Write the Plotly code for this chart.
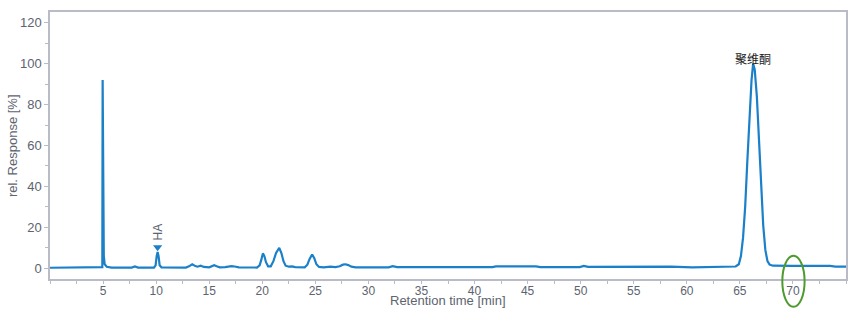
import plotly.graph_objects as go

# Chromatogram trace
time_min = [0.0, 4.85, 4.93, 4.96, 5.00, 5.03, 5.07, 5.15, 5.35, 5.8, 7.7, 8.0, 8.3, 9.8, 9.95,
            10.05, 10.14, 10.23, 10.33, 10.5, 12.8, 13.1, 13.4, 13.7, 13.9, 14.2, 14.5, 15.0,
            15.25, 15.47, 15.7, 16.0, 16.5, 16.8, 17.1, 17.4, 17.8, 19.5, 19.75, 19.9, 20.06,
            20.2, 20.35, 20.55, 20.8, 21.05, 21.3, 21.6, 21.8, 22.0, 22.2, 22.5, 22.8, 23.1,
            24.0, 24.25, 24.45, 24.7, 24.9, 25.1, 25.35, 25.8, 26.4, 26.9, 27.3, 27.6, 27.85,
            28.1, 28.4, 28.8, 31.9, 32.3, 32.7, 41.7, 42.0, 45.8, 46.2, 49.9, 50.3, 50.7, 54.6,
            55.0, 57.5, 58.5, 60.5, 63.0, 64.0, 64.6, 64.9, 65.1, 65.3, 65.5, 65.7, 65.9, 66.1,
            66.25, 66.4, 66.6, 66.8, 67.0, 67.2, 67.4, 67.6, 67.8, 68.1, 70.0, 73.5, 74.0, 75.0]
response = [0.3, 0.3, 0.6, 92.0, 35.0, 33.0, 6.0, 2.0, 0.8, 0.4, 0.4, 0.9, 0.4, 0.4, 1.5,
            6.0, 8.0, 6.0, 1.5, 0.5, 0.4, 1.0, 2.0, 1.1, 0.8, 1.3, 0.7, 0.5,
            1.0, 1.5, 1.0, 0.5, 0.6, 0.9, 1.1, 0.9, 0.5, 0.4, 1.5, 4.0, 7.3,
            6.0, 3.0, 1.0, 1.0, 3.5, 7.5, 10.0, 7.5, 3.5, 1.3, 0.8, 1.0, 0.6,
            0.5, 1.8, 4.5, 6.8, 5.0, 2.0, 0.7, 0.5, 0.8, 0.6, 1.0, 1.8, 2.0,
            1.6, 0.8, 0.5, 0.5, 1.1, 0.6, 0.6, 1.0, 1.0, 0.6, 0.6, 1.2, 0.7, 0.7,
            1.0, 1.0, 0.8, 0.5, 0.6, 0.8, 0.9, 2.0, 6.0, 15.0, 30.0, 52.0, 74.0, 92.0,
            100.0, 97.0, 84.0, 63.0, 40.0, 21.0, 9.0, 3.5, 1.8, 1.3, 1.2, 1.2, 0.8, 0.8]

peak_name_ha = "HA"
peak_ha_time = 10.14
peak_ha_marker = 10.3
peak_main_name = "聚维酮"
peak_main_time = 66.25
peak_main_label_y = 102.6

x_ticks = [5, 10, 15, 20, 25, 30, 35, 40, 45, 50, 55, 60, 65, 70]
y_ticks = [0, 20, 40, 60, 80, 100, 120]

axis_col = "#b9bbc6"
tick_col = "#5c6470"
line_col = "#1b80c8"

fig = go.Figure()
fig.add_trace(go.Scatter(x=time_min, y=response, mode="lines",
                         line=dict(color=line_col, width=2.2), hoverinfo="skip",
                         showlegend=False))
fig.add_trace(go.Scatter(x=[peak_ha_time], y=[peak_ha_marker], mode="markers",
                         marker=dict(symbol="triangle-down", size=8, color=line_col),
                         showlegend=False))

fig.update_layout(
    width=859, height=309,
    margin=dict(l=50, r=13, t=10, b=30),
    paper_bgcolor="white", plot_bgcolor="white",
    font=dict(family="Liberation Sans, Arial, sans-serif", color=tick_col),
    xaxis=dict(range=[0, 75], tickvals=x_ticks, showgrid=False, zeroline=False,
               showline=True, linecolor=axis_col, linewidth=1.5, mirror=True,
               ticks="", tickfont=dict(size=12, color=tick_col),
               minor=dict(ticks="outside", dtick=2.5, tick0=0, ticklen=3,
                          tickcolor=axis_col, showgrid=False)),
    yaxis=dict(range=[-5.2, 125.2], tickvals=y_ticks, showgrid=False, zeroline=False,
               showline=True, linecolor=axis_col, linewidth=1.5, mirror=True,
               ticks="outside", ticklen=4, tickcolor=axis_col,
               tickfont=dict(size=13, color=tick_col),
               minor=dict(ticks="outside", dtick=10, ticklen=3, tickcolor=axis_col,
                          showgrid=False)),
)

fig.add_annotation(x=0.5, xref="paper", y=-0.045, yref="paper", yanchor="top",
                   text="Retention time [min]", showarrow=False,
                   font=dict(size=13, color=tick_col))
fig.add_annotation(x=-0.047, xref="paper", xanchor="center", y=0.5, yref="paper",
                   text="rel. Response [%]", textangle=-90, showarrow=False,
                   font=dict(size=13, color=tick_col))
fig.add_annotation(x=peak_ha_time, y=peak_ha_marker, yshift=5, yanchor="bottom",
                   text=peak_name_ha, textangle=-90, showarrow=False,
                   font=dict(size=12, color=tick_col))
fig.add_annotation(x=peak_main_time, y=peak_main_label_y, text=peak_main_name,
                   showarrow=False,
                   font=dict(size=12, color="#222222", family="Noto Sans CJK SC"))

fig.add_shape(type="circle", xref="paper", yref="paper",
              x0=0.92, x1=0.948, y0=-0.104, y1=0.087,
              line=dict(color="#4f9a2e", width=2))

fig.write_html("out.html")
